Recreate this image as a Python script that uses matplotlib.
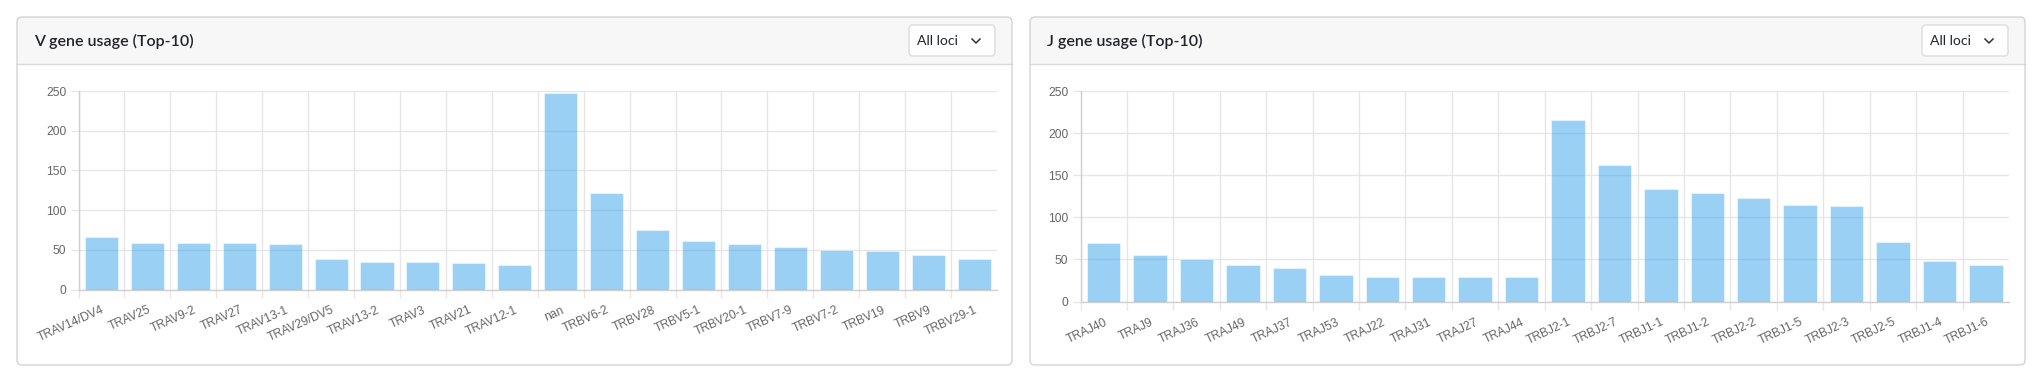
import matplotlib
matplotlib.use("Agg")
import matplotlib.pyplot as plt
import matplotlib.patches as patches
from matplotlib.ticker import FixedLocator

# ---- data ----
v_genes = ["TRAV14/DV4", "TRAV25", "TRAV9-2", "TRAV27", "TRAV13-1", "TRAV29/DV5",
           "TRAV13-2", "TRAV3", "TRAV21", "TRAV12-1", "nan", "TRBV6-2", "TRBV28",
           "TRBV5-1", "TRBV20-1", "TRBV7-9", "TRBV7-2", "TRBV19", "TRBV9", "TRBV29-1"]
v_counts = [66, 59, 59, 59, 57, 39, 35, 35, 33, 31, 248, 121, 75, 61, 57, 53, 50, 48, 43, 38]

j_genes = ["TRAJ40", "TRAJ9", "TRAJ36", "TRAJ49", "TRAJ37", "TRAJ53", "TRAJ22",
           "TRAJ31", "TRAJ27", "TRAJ44", "TRBJ2-1", "TRBJ2-7", "TRBJ1-1", "TRBJ1-2",
           "TRBJ2-2", "TRBJ1-5", "TRBJ2-3", "TRBJ2-5", "TRBJ1-4", "TRBJ1-6"]
j_counts = [69, 55, 51, 43, 40, 32, 29, 29, 29, 29, 215, 162, 134, 129, 123, 115, 113, 71, 48, 43]

y_ticks = [0, 50, 100, 150, 200, 250]

# ---- style ----
W, H = 2042, 370
PX = 72 / 100  # px -> pt
BAR = (54 / 255, 162 / 255, 235 / 255, 0.5)
GRID = "#e6e6e6"
AXIS = "#cfcfcf"
TICK_TXT = "#666666"
TICK_FONT = ["Liberation Sans", "DejaVu Sans"]
TITLE_FONT = ["Lato", "Noto Sans", "DejaVu Sans"]

fig = plt.figure(figsize=(W / 100, H / 100), dpi=100)
fig.patch.set_facecolor("white")

# background axes in pixel coords for the cards
bg = fig.add_axes([0, 0, 1, 1])
bg.set_xlim(0, W)
bg.set_ylim(H, 0)
bg.axis("off")


def draw_card(x0, x1, title, drop_x0):
    y0, y1, hb = 17, 365, 64
    r = 5
    bg.add_patch(patches.FancyBboxPatch((x0, y0), x1 - x0, y1 - y0,
                                        boxstyle=f"round,pad=0,rounding_size={r}",
                                        fc="white", ec="none", zorder=0))
    bg.add_patch(patches.FancyBboxPatch((x0, y0), x1 - x0, hb - y0 + 12,
                                        boxstyle=f"round,pad=0,rounding_size={r}",
                                        fc="#f7f7f7", ec="none", zorder=1))
    bg.add_patch(patches.Rectangle((x0, hb), x1 - x0, 14, fc="white", ec="none", zorder=2))
    bg.plot([x0, x1], [hb, hb], color="#dadada", lw=1.0, zorder=3)
    bg.add_patch(patches.FancyBboxPatch((x0, y0), x1 - x0, y1 - y0,
                                        boxstyle=f"round,pad=0,rounding_size={r}",
                                        fc="none", ec="#d4d4d4", lw=1.0, zorder=4))
    bg.text(x0 + 17, 41, title, fontsize=16 * PX, fontweight="semibold",
            family=TITLE_FONT, color="#212529", va="center", ha="left", zorder=5)
    # dropdown
    bg.add_patch(patches.FancyBboxPatch((drop_x0, 25), 86, 31,
                                        boxstyle="round,pad=0,rounding_size=4",
                                        fc="white", ec="#dcdcdc", lw=1.0, zorder=5))
    bg.text(drop_x0 + 8, 41, "All loci", fontsize=14 * PX, family=TITLE_FONT,
            color="#212529", va="center", ha="left", zorder=6)
    cx = drop_x0 + 67
    bg.plot([cx - 4, cx, cx + 4], [39, 43, 39], color="#333333", lw=1.1, zorder=6)


draw_card(17, 1012, "V gene usage (Top-10)", 909)
draw_card(1030, 2025, "J gene usage (Top-10)", 1922)


def bar_panel(rect, labels, values, angle):
    ax = fig.add_axes(rect)
    ax.set_facecolor("none")
    x = range(len(labels))
    ax.bar(x, values, width=0.72, color=BAR, edgecolor=(1, 1, 1, 0.45), lw=0.8, zorder=3)
    ax.set_xlim(-0.5, len(labels) - 0.5)
    ax.set_ylim(0, 250)

    ax.set_xticks(list(x))
    ax.set_xticklabels(labels, rotation=angle, ha="right", va="top",
                       rotation_mode="anchor", family=TICK_FONT,
                       fontsize=12 * PX, color=TICK_TXT)
    ax.tick_params(axis="x", which="major", length=0, pad=10.5)
    ax.xaxis.set_minor_locator(FixedLocator([i - 0.5 for i in range(len(labels))]))
    ax.tick_params(axis="x", which="minor", length=8 * PX, color=GRID, width=1)
    ax.grid(axis="x", which="minor", color=GRID, lw=1, zorder=0)

    ax.set_yticks(y_ticks)
    ax.set_yticklabels([str(v) for v in y_ticks], family=TICK_FONT,
                       fontsize=12 * PX, color=TICK_TXT)
    ax.tick_params(axis="y", length=8 * PX, color=GRID, width=1, pad=3)
    ax.grid(axis="y", which="major", color=GRID, lw=1, zorder=0)
    ax.set_axisbelow(True)

    for s in ("top", "right"):
        ax.spines[s].set_visible(False)
    for s in ("left", "bottom"):
        ax.spines[s].set_color(AXIS)
        ax.spines[s].set_linewidth(1)
    return ax


bar_panel([78.5 / W, 1 - 289.5 / H, 918.5 / W, 198.5 / H], v_genes, v_counts, 24)
bar_panel([1080.5 / W, 1 - 301.5 / H, 928.5 / W, 210.5 / H], j_genes, j_counts, 25)

fig.savefig("out.png", dpi=100, facecolor="white")
